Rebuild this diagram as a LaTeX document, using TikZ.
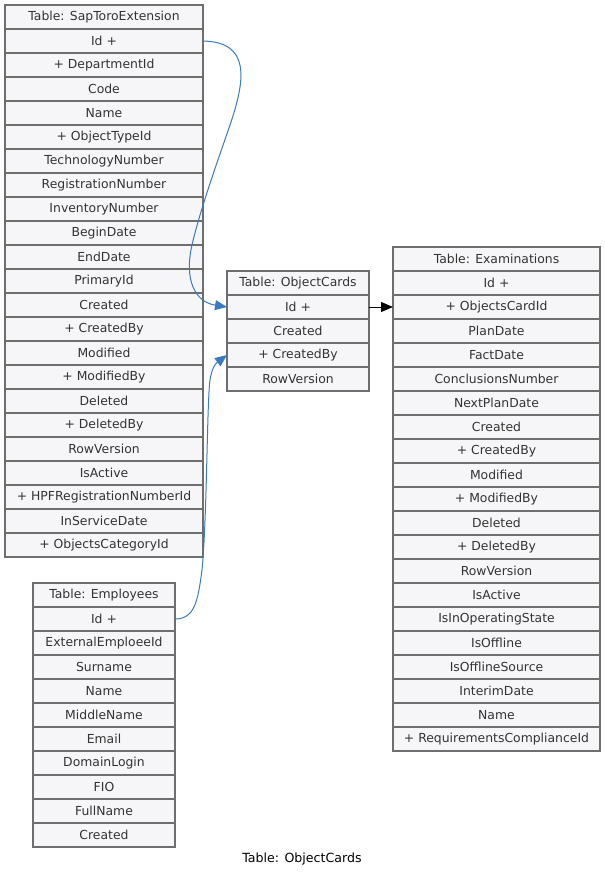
\documentclass[tikz,border=0pt]{standalone}
\usepackage{fontspec}
\setmainfont{DejaVu Sans}
\usetikzlibrary{arrows.meta}
\definecolor{cellfill}{HTML}{F6F6F8}
\definecolor{cellline}{HTML}{6E6E6E}
\definecolor{celltext}{HTML}{333333}
\definecolor{linkblue}{HTML}{3A7BC0}
\tikzset{
  cell/.style={draw=cellline, fill=cellfill, line width=1.2pt, inner sep=0pt, outer sep=0pt,
    minimum height=24pt, anchor=north west, text=celltext, font=\fontsize{12.4}{14}\selectfont},
  fklink/.style={draw=linkblue, line width=1pt, -{Triangle[length=12pt,width=10pt]}},
  pklink/.style={draw=black, line width=1pt, -{Triangle[length=12pt,width=10pt]}},
  caption/.style={font=\fontsize{12.6}{14}\selectfont, text=black}
}
\begin{document}
\begin{tikzpicture}[x=1pt, y=-1pt]
\useasboundingbox (0,0) rectangle (605,879);

% Table: SapToroExtension
\foreach \t [count=\i from 0] in {Table: SapToroExtension, Id +, + DepartmentId, Code, Name,
  + ObjectTypeId, TechnologyNumber, RegistrationNumber, InventoryNumber, BeginDate, EndDate,
  PrimaryId, Created, + CreatedBy, Modified, + ModifiedBy, Deleted, + DeletedBy, RowVersion,
  IsActive, + HPFRegistrationNumberId, InServiceDate, + ObjectsCategoryId}
  \node[cell, minimum width=198pt] (st\i) at (5,{5+24*\i}) {\t};

% Table: ObjectCards
\foreach \t [count=\i from 0] in {Table: ObjectCards, Id +, Created, + CreatedBy, RowVersion}
  \node[cell, minimum width=142pt] (oc\i) at (227,{271+24*\i}) {\t};

% Table: Examinations
\foreach \t [count=\i from 0] in {Table: Examinations, Id +, + ObjectsCardId, PlanDate, FactDate,
  ConclusionsNumber, NextPlanDate, Created, + CreatedBy, Modified, + ModifiedBy, Deleted,
  + DeletedBy, RowVersion, IsActive, IsInOperatingState, IsOffline, IsOfflineSource,
  InterimDate, Name, + RequirementsComplianceId}
  \node[cell, minimum width=207pt] (ex\i) at (393,{247+24*\i}) {\t};

% Table: Employees
\foreach \t [count=\i from 0] in {Table: Employees, Id +, ExternalEmploeeId, Surname, Name,
  MiddleName, Email, DomainLogin, FIO, FullName, Created}
  \node[cell, minimum width=142pt] (em\i) at (33,{583+24*\i}) {\t};

% Relations
\draw[fklink] (st1.east) .. controls (250,42) and (246,78) .. (230,125)
  .. controls (218,160) and (200,210) .. (192,245)
  .. controls (184,280) and (195,302) .. (oc1.west);
\draw[fklink] (em1.east) .. controls (195,619) and (198,600) .. (202,570)
  .. controls (207,520) and (207,400) .. (210,380)
  .. controls (212,368) and (215,364) .. (oc3.west);
\draw[pklink] (oc1.east) -- (ex2.west);

\node[caption] (cap) at (302,859) {Table: ObjectCards};
\end{tikzpicture}
\end{document}
